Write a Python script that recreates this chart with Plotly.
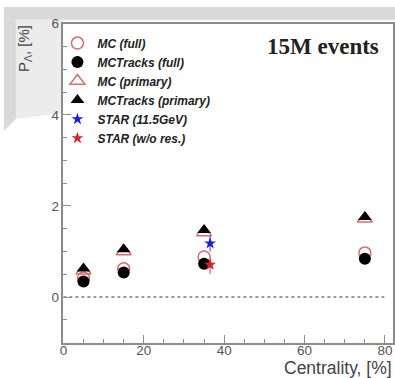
import plotly.graph_objects as go

W, H = 395, 378

# ---- data ----
centrality_mc = [5, 15, 35, 75]
mc_full = [0.42, 0.62, 0.88, 0.97]
mctracks_full = [0.34, 0.54, 0.73, 0.84]
mc_primary = [0.58, 1.00, 1.42, 1.72]
mctracks_primary = [0.63, 1.05, 1.47, 1.76]

centrality_star = [36.5]
star_115 = [1.18]
star_115_err = [0.18]
star_wores = [0.71]
star_wores_err = [0.21]

x_ticks = [0, 20, 40, 60, 80]
y_ticks = [0, 2, 4, 6]

RED_OPEN = "#e06a6a"
def px(x):
    return x / W
def py(y):
    return 1 - y / H

fig = go.Figure()
fig.add_trace(go.Scatter(x=centrality_mc, y=mc_full, mode="markers", name="MC (full)",
                         marker=dict(symbol="circle-open", size=12, color=RED_OPEN, line=dict(width=1.5, color=RED_OPEN))))
fig.add_trace(go.Scatter(x=centrality_mc, y=mctracks_full, mode="markers", name="MCTracks (full)",
                         marker=dict(symbol="circle", size=12, color="black")))
fig.add_trace(go.Scatter(x=centrality_mc, y=mc_primary, mode="markers", name="MC (primary)",
                         marker=dict(symbol="triangle-up-open", size=13, color=RED_OPEN, line=dict(width=1.5, color=RED_OPEN))))
fig.add_trace(go.Scatter(x=centrality_mc, y=mctracks_primary, mode="markers", name="MCTracks (primary)",
                         marker=dict(symbol="triangle-up", size=12, color="black")))
fig.add_trace(go.Scatter(x=centrality_star, y=star_115, mode="markers", name="STAR (11.5GeV)",
                         marker=dict(symbol="star", size=9, color="#1a1aee"),
                         error_y=dict(type="data", array=star_115_err, color="#7a7af0", thickness=1.5, width=0)))
fig.add_trace(go.Scatter(x=centrality_star, y=star_wores, mode="markers", name="STAR (w/o res.)",
                         marker=dict(symbol="star", size=9, color="#e02020"),
                         error_y=dict(type="data", array=star_wores_err, color="#f08080", thickness=1.5, width=0)))

shapes = [
    # photographed slide background
    dict(type="rect", xref="paper", yref="paper", x0=0, x1=1, y0=py(13), y1=1,
         fillcolor="#d9d9d9", line=dict(width=0), layer="below"),
    dict(type="path", xref="paper", yref="paper",
         path=f"M {px(12)} {py(13)} L {px(60)} {py(13)} L {px(60)} {py(108)} L {px(12)} {py(114)} Z",
         fillcolor="#ececec", line=dict(width=0), layer="below"),
    dict(type="path", xref="paper", yref="paper",
         path=f"M 0 {py(13)} L {px(12)} {py(13)} L {px(12)} {py(114)} L 0 {py(126)} Z",
         fillcolor="#d9d9d9", line=dict(width=0), layer="below"),
    # zero line
    dict(type="line", xref="x", yref="y", x0=0, x1=80, y0=0, y1=0,
         line=dict(color="#9a9a9a", width=2, dash="dot")),
]

annotations = [
    dict(text="15M events", xref="paper", yref="paper", x=px(381), y=py(40),
         xanchor="right", yanchor="middle", showarrow=False,
         font=dict(family="Liberation Serif", size=23, color="#222222", weight="bold")),
    dict(text="Centrality, [%]", xref="paper", yref="paper", x=px(394), y=py(368),
         xanchor="right", yanchor="middle", showarrow=False,
         font=dict(family="Liberation Sans", size=17.5, color="#444444")),
    dict(text="P<sub>Λ</sub>, [%]", xref="paper", yref="paper", x=px(20), y=py(16),
         xanchor="center", yanchor="top", showarrow=False, textangle=-90,
         font=dict(family="Liberation Sans", size=15, color="#444444")),
]

axis_common = dict(showgrid=False, zeroline=False, showline=True, linecolor="#8c8c8c", linewidth=1.5,
                   mirror=True, ticks="inside", tickcolor="#8c8c8c", tickwidth=1.2, ticklen=8,
                   tickfont=dict(family="Liberation Sans", size=13.5, color="#555555"))

fig.update_layout(
    width=W, height=H,
    margin=dict(l=0, r=0, t=0, b=0),
    paper_bgcolor="white", plot_bgcolor="white",
    xaxis=dict(domain=[px(60), px(393)], range=[0, 82], tickvals=x_ticks, ticklabelstandoff=-6,
               minor=dict(dtick=5, tick0=0, ticks="inside", ticklen=4, tickcolor="#8c8c8c"),
               **axis_common),
    yaxis=dict(domain=[py(342), py(17)], range=[-1, 6], tickvals=y_ticks,
               minor=dict(dtick=0.5, tick0=0, ticks="inside", ticklen=4, tickcolor="#8c8c8c"),
               **axis_common),
    shapes=shapes,
    annotations=annotations,
    showlegend=True,
    legend=dict(x=px(54), y=py(22), xanchor="left", yanchor="top", bgcolor="rgba(0,0,0,0)",
                font=dict(family="Liberation Sans", size=12, color="#222222", style="italic", weight="bold"),
                itemwidth=30, tracegroupgap=0),
)

fig.write_html("out.html")
